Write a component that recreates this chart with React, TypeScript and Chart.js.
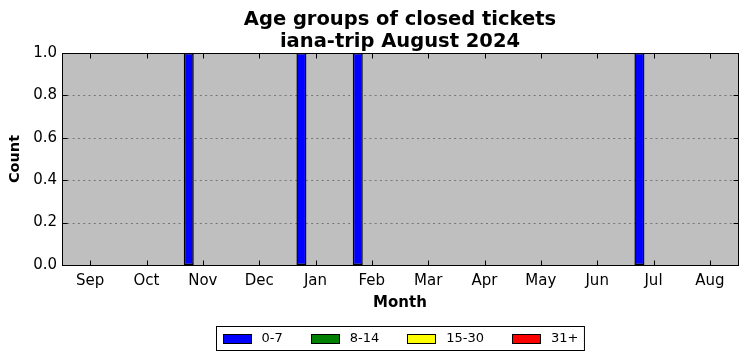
import React, { useEffect, useRef } from "react";
import { Chart, registerables } from "chart.js";
Chart.register(...registerables);

const monthLabels = ["Sep", "Oct", "Nov", "Dec", "Jan", "Feb", "Mar", "Apr", "May", "Jun", "Jul", "Aug"];
// bar positions in month units (0 = Sep)
const barPositions = [1.75, 3.75, 4.75, 9.75];
const age0to7 = [1, 1, 1, 1];
const age8to14 = [0, 0, 0, 0];
const age15to30 = [0, 0, 0, 0];
const age31plus = [0, 0, 0, 0];
const seriesLabels = ["0-7", "8-14", "15-30", "31+"];
const seriesColors = ["#0000ff", "#008000", "#ffff00", "#ff0000"];
const yTickValues = [0, 0.2, 0.4, 0.6, 0.8, 1.0];
const titleLines = ["Age groups of closed tickets", "iana-trip August 2024"];

const FONT = "'DejaVu Sans', sans-serif";

const framePlugin = {
  id: "mplFrame",
  beforeDatasetsDraw(chart: any) {
    const { ctx, chartArea } = chart;
    const { left, right, top, bottom } = chartArea;
    ctx.save();
    ctx.fillStyle = "#bfbfbf";
    ctx.fillRect(left, top, right - left, bottom - top);
    const y = chart.scales.y;
    ctx.strokeStyle = "rgba(0,0,0,0.38)";
    ctx.lineWidth = 1;
    ctx.setLineDash([2, 3.3]);
    yTickValues.forEach((v) => {
      if (v <= 0 || v >= 1) return;
      const py = Math.round(y.getPixelForValue(v)) + 0.5;
      ctx.beginPath();
      ctx.moveTo(left, py);
      ctx.lineTo(right, py);
      ctx.stroke();
    });
    ctx.restore();
  },
  afterDatasetsDraw(chart: any) {
    const { ctx, chartArea } = chart;
    const { left, right, top, bottom } = chartArea;
    const x = chart.scales.x;
    const y = chart.scales.y;
    ctx.save();
    ctx.strokeStyle = "#000";
    ctx.lineWidth = 1;
    ctx.setLineDash([]);
    const L = Math.round(left) + 0.5;
    const R = Math.round(right) + 0.5;
    const T = Math.round(top) + 0.5;
    const B = Math.round(bottom) + 0.5;
    ctx.strokeRect(L, T, R - L, B - T);
    const tl = 5;
    monthLabels.forEach((_, i) => {
      const px = Math.round(x.getPixelForValue(i)) + 0.5;
      ctx.beginPath();
      ctx.moveTo(px, B);
      ctx.lineTo(px, B - tl);
      ctx.moveTo(px, T);
      ctx.lineTo(px, T + tl);
      ctx.stroke();
    });
    yTickValues.forEach((v) => {
      const py = Math.round(y.getPixelForValue(v)) + 0.5;
      ctx.beginPath();
      ctx.moveTo(L, py);
      ctx.lineTo(L + tl, py);
      ctx.moveTo(R, py);
      ctx.lineTo(R - tl, py);
      ctx.stroke();
    });
    ctx.restore();
  },
  afterDraw(chart: any) {
    const { ctx, chartArea } = chart;
    const xs = chart.scales.x;
    const cx = (chartArea.left + chartArea.right) / 2;
    ctx.save();
    // title
    ctx.fillStyle = "#000";
    ctx.font = `bold 19.5px ${FONT}`;
    ctx.textAlign = "center";
    ctx.textBaseline = "middle";
    titleLines.forEach((t, i) => ctx.fillText(t, cx, 19.5 + i * 22));
    // legend
    ctx.font = `13px ${FONT}`;
    const sw = 28, sh = 9, textGap = 11, itemGap = 28, pad = 6;
    const widths = seriesLabels.map((l) => ctx.measureText(l).width);
    let total = pad * 2;
    widths.forEach((w, i) => {
      total += sw + textGap + w + (i < widths.length - 1 ? itemGap : 0);
    });
    const boxLeft = Math.round(cx - total / 2) + 0.5;
    const boxTop = Math.round(xs.bottom + 8) + 0.5;
    const boxH = 24;
    ctx.fillStyle = "#fff";
    ctx.fillRect(boxLeft, boxTop, total, boxH);
    ctx.strokeStyle = "#000";
    ctx.lineWidth = 1;
    ctx.strokeRect(boxLeft, boxTop, total, boxH);
    let cur = boxLeft + pad;
    const midY = boxTop + boxH / 2;
    seriesLabels.forEach((l, i) => {
      const sx = Math.round(cur) + 0.5;
      const sy = Math.round(midY - sh / 2) + 0.5;
      ctx.fillStyle = seriesColors[i];
      ctx.fillRect(sx, sy, sw, sh);
      ctx.strokeStyle = "#000";
      ctx.strokeRect(sx, sy, sw, sh);
      ctx.fillStyle = "#000";
      ctx.textBaseline = "middle";
      ctx.textAlign = "left";
      ctx.fillText(l, cur + sw + textGap, midY + 0.5);
      cur += sw + textGap + widths[i] + itemGap;
    });
    ctx.restore();
  },
};

export default function App() {
  const ref = useRef<HTMLCanvasElement | null>(null);
  useEffect(() => {
    if (!ref.current) return;
    const series = [age0to7, age8to14, age15to30, age31plus];
    const chart = new Chart(ref.current, {
      type: "bar",
      data: {
        datasets: series.map((vals, i) => ({
          label: seriesLabels[i],
          data: barPositions.map((p, j) => ({ x: p, y: vals[j] })),
          backgroundColor: seriesColors[i],
          borderColor: "#000",
          borderWidth: 1.5,
          borderSkipped: false,
          inflateAmount: 0,
          barThickness: 10,
          stack: "s",
        })),
      },
      options: {
        animation: false,
        responsive: false,
        devicePixelRatio: 1,
        layout: { padding: { left: 0, right: 9, top: 53, bottom: 43 } },
        plugins: {
          legend: { display: false },
          tooltip: { enabled: false },
          title: { display: false },
        },
        scales: {
          x: {
            type: "linear",
            min: -0.5,
            max: 11.5,
            stacked: true,
            offset: false,
            afterBuildTicks: (scale: any) => {
              scale.ticks = monthLabels.map((_, i) => ({ value: i }));
            },
            afterFit: (scale: any) => {
              scale.height = 53;
            },
            ticks: {
              autoSkip: false,
              maxRotation: 0,
              color: "#000",
              padding: 7,
              font: { family: FONT, size: 15 },
              callback: (v: any) => monthLabels[Math.round(v)] ?? "",
            },
            grid: { display: false, drawTicks: false },
            border: { display: false },
            title: {
              display: true,
              text: "Month",
              color: "#000",
              font: { family: FONT, size: 15, weight: "bold" },
              padding: { top: 0, bottom: 6 },
            },
          },
          y: {
            min: 0,
            max: 1,
            stacked: true,
            afterBuildTicks: (scale: any) => {
              scale.ticks = yTickValues.map((v) => ({ value: v }));
            },
            afterFit: (scale: any) => {
              scale.width = 62;
            },
            ticks: {
              color: "#000",
              padding: 5,
              font: { family: FONT, size: 15 },
              callback: (v: any) => Number(v).toFixed(1),
            },
            grid: { display: false, drawTicks: false },
            border: { display: false },
            title: {
              display: true,
              text: "Count",
              color: "#000",
              font: { family: FONT, size: 14.5, weight: "bold" },
              padding: { top: 7, bottom: 0 },
            },
          },
        },
      },
      plugins: [framePlugin],
    } as any);
    return () => chart.destroy();
  }, []);
  return (
    <div style={{ position: "fixed", left: 0, top: 0, width: 747, height: 361, background: "#fff" }}>
      <canvas ref={ref} width={747} height={361} style={{ display: "block" }} />
    </div>
  );
}
